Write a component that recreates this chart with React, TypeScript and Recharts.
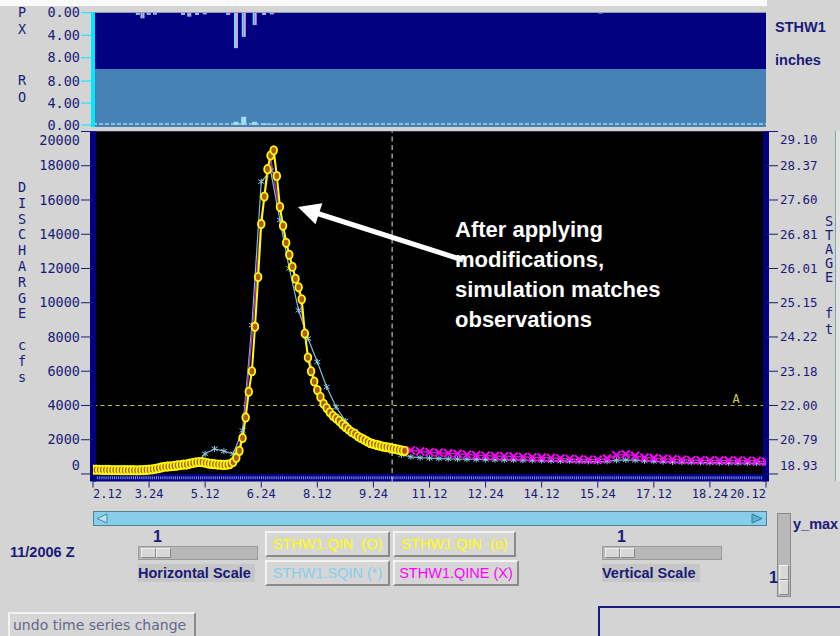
import React from "react";
import {
  ComposedChart,
  Line,
  Bar,
  XAxis,
  YAxis,
  CartesianGrid,
  ReferenceLine,
  ReferenceArea,
} from "recharts";

const NAVY = "#1a1a78";
const MONO = "'DejaVu Sans Mono', monospace";
const SANS = "'Liberation Sans', Arial, sans-serif";

// hours after day 2, 12Z
const xTicks = [0, 36, 72, 108, 144, 180, 216, 252, 288, 324, 360, 396, 432];
const xTickLabels = ["2.12", "3.24", "5.12", "6.24", "8.12", "9.24", "11.12", "12.24", "14.12", "15.24", "17.12", "18.24", "20.12"];

const flowTicks = [0, 2000, 4000, 6000, 8000, 10000, 12000, 14000, 16000, 18000, 20000];
const stageLabels = ["18.93", "20.79", "22.00", "23.18", "24.22", "25.15", "26.01", "26.81", "27.60", "28.37", "29.10"];

const floodFlow = 4000;
const forecastHour = 192;

// STHW1.QIN observed, every 2 h
const obsFlow = [
  250, 250, 245, 240, 240, 235, 230, 230, 230, 225,
  220, 220, 220, 220, 215, 220, 230, 240, 250, 270,
  300, 340, 380, 420, 440, 450, 470, 500, 520, 540,
  560, 600, 640, 680, 700, 690, 660, 620, 590, 570,
  550, 540, 530, 540, 580, 700, 950, 1350, 2100, 3300,
  4800, 6000, 8600, 11500, 14600, 16200, 17800, 18600, 18900, 17400,
  15600, 14500, 13500, 12800, 12100, 11400, 10900, 10200, 8200, 6800,
  6000, 5400, 4900, 4500, 4100, 3850, 3600, 3400, 3250, 3100,
  2900, 2750, 2600, 2450, 2350, 2200, 2100, 2000, 1900, 1800,
  1750, 1700, 1650, 1600, 1570, 1540, 1500, 1460, 1420, 1380,
  1350,
];

// STHW1.SQIN simulated, every 6 h
const sqinFlow = [
  200, 200, 190, 190, 180, 180, 200, 250, 300, 350, 420, 600,
  1180, 1470, 1330, 1180, 2540, 8690, 17070, 17710, 14830, 12000,
  9560, 7910, 6540, 5080, 3910, 3100, 2500, 2050, 1750, 1500,
  1300, 1120, 1000, 950, 920, 900, 880, 870, 860, 850,
  840, 830, 820, 810, 800, 790, 780, 770, 760, 750,
  740, 730, 720, 740, 800, 820, 800, 760, 740, 720,
  700, 690, 680, 670, 660, 650, 645, 640, 635, 630, 625,
];

// STHW1.QINE, every 6 h
const qineFlow = [
  220, 220, 220, 215, 215, 220, 250, 330, 430, 500, 560, 670,
  660, 570, 530, 680, 2200, 8000, 15000, 18400, 15300, 12900,
  10700, 7000, 5000, 3900, 3300, 2800, 2400, 2000, 1800, 1650,
  1550, 1450, 1380, 1320, 1270, 1240, 1210, 1180, 1130, 1090,
  1070, 1050, 1040, 1020, 1000, 980, 960, 940, 910, 880,
  860, 840, 830, 900, 1100, 1150, 1060, 960, 930, 890,
  860, 830, 810, 800, 790, 790, 790, 790, 780, 760, 720,
];
const qineMarkFrom = 204;

// PX precipitation and RO runoff, inches
const pxHours = [29, 32, 36, 40, 58, 62, 67, 72, 87, 92, 97, 104, 110, 115, 326];
const pxInches = [0.4, 1.0, 0.4, 0.35, 0.4, 0.7, 0.4, 0.3, 0.4, 6.3, 4.3, 2.2, 0.4, 0.3, 0.15];
const roHours = [92, 97, 104, 110, 116];
const roInches = [0.6, 1.5, 0.6, 0.3, 0.15];

const obsData = obsFlow.map((q, i) => ({ h: i * 2, q }));
const sqinData = sqinFlow.map((q, i) => ({ h: i * 6, q }));
const qineData = qineFlow.map((q, i) => ({ h: i * 6, q }));
const pxData = pxHours.map((h, i) => ({ h, p: pxInches[i] }));
const roData = roHours.map((h, i) => ({ h, r: roInches[i] }));

const ObsDot = (p: any) => {
  if (p.cx == null || p.cy == null) return <g key={`o${p.index}`} />;
  return (
    <ellipse key={`o${p.index}`} cx={p.cx} cy={p.cy} rx={3.3} ry={4.2} fill="#b0581e" stroke="#ffff00" strokeWidth={1.8} />
  );
};

const SimDot = (p: any) => {
  if (p.cx == null || p.cy == null) return <g key={`s${p.index}`} />;
  const { cx, cy } = p;
  return (
    <g key={`s${p.index}`} stroke="#8fcbe6" strokeWidth={1}>
      <line x1={cx} y1={cy - 3} x2={cx} y2={cy + 3} />
      <line x1={cx - 3} y1={cy - 2} x2={cx + 3} y2={cy + 2} />
      <line x1={cx - 3} y1={cy + 2} x2={cx + 3} y2={cy - 2} />
    </g>
  );
};

const QineDot = (p: any) => {
  if (p.cx == null || p.cy == null || p.payload.h < qineMarkFrom) return <g key={`x${p.index}`} />;
  const { cx, cy } = p;
  return (
    <g key={`x${p.index}`} stroke="#ff00ff" strokeWidth={2}>
      <line x1={cx - 4} y1={cy - 4} x2={cx + 4} y2={cy + 4} />
      <line x1={cx - 4} y1={cy + 4} x2={cx + 4} y2={cy - 4} />
    </g>
  );
};

const LeftTick = (p: any) => {
  const v = p.payload.value;
  const dy = v === 20000 ? 8.5 : v === 0 ? -8.5 : 0;
  return (
    <text x={p.x} y={p.y + dy} dy="0.35em" textAnchor="end" fontFamily={MONO} fontSize={13.5} fill={NAVY}>
      {v}
    </text>
  );
};

const RightTick = (p: any) => {
  const v = p.payload.value;
  const dy = v === 20000 ? 8.5 : v === 0 ? -8.5 : 0;
  return (
    <text x={p.x} y={p.y + dy} dy="0.35em" textAnchor="start" fontFamily={MONO} fontSize={12.5} fill={NAVY}>
      {stageLabels[flowTicks.indexOf(v)]}
    </text>
  );
};

const XTick = (p: any) => {
  const i = xTicks.indexOf(p.payload.value);
  const anchor = i === 0 ? "start" : i === xTicks.length - 1 ? "end" : "middle";
  return (
    <text x={p.x} y={p.y} dy="0.71em" textAnchor={anchor} fontFamily={MONO} fontSize={12} fill={NAVY}>
      {xTickLabels[i]}
    </text>
  );
};

const PanelTick = (p: any) => (
  <text x={p.x} y={p.y} dy="0.35em" textAnchor="end" fontFamily={MONO} fontSize={13.5} fill={NAVY}>
    {Number(p.payload.value).toFixed(2)}
  </text>
);

const TwoTone = (p: any) => {
  const h = Math.abs(p.height || 0);
  const y = Math.min(p.y, p.y + (p.height || 0));
  return (
    <g>
      <rect x={p.x} y={y} width={p.width / 2} height={h} fill="#70dcf2" />
      <rect x={p.x + p.width / 2} y={y} width={p.width / 2} height={h} fill="#d9a2e8" />
    </g>
  );
};

const FloodLabel = (p: any) => {
  const vb = p.viewBox || {};
  return (
    <text x={vb.x + vb.width - 30} y={vb.y - 2} textAnchor="middle" fontFamily={MONO} fontSize={12} fill="#d0d040">
      A
    </text>
  );
};

const abs = (left: number, top: number, extra: React.CSSProperties = {}): React.CSSProperties => ({
  position: "absolute",
  left,
  top,
  ...extra,
});

const raised: React.CSSProperties = {
  boxSizing: "border-box",
  background: "#d6d6d6",
  borderTop: "2px solid #f2f2f2",
  borderLeft: "2px solid #f2f2f2",
  borderBottom: "2px solid #8a8a8a",
  borderRight: "2px solid #8a8a8a",
  display: "flex",
  alignItems: "center",
  justifyContent: "center",
  fontFamily: SANS,
  fontSize: 14.5,
  whiteSpace: "nowrap",
};

const bold: React.CSSProperties = { fontFamily: SANS, fontWeight: 700, fontSize: 14.5, color: NAVY, whiteSpace: "nowrap" };

const Slider = ({ left, top, label }: { left: number; top: number; label: string }) => (
  <>
    <div style={abs(left + 15, top - 18, { ...bold, fontSize: 16 })}>1</div>
    <div style={abs(left, top, { width: 120, height: 14, background: "#b8b8b8", boxSizing: "border-box", border: "1px solid #9a9a9a" })}>
      <div style={abs(2, 1, { width: 15, height: 10, background: "#d8d8d8", boxSizing: "border-box", border: "1px solid #f0f0f0", borderBottomColor: "#888", borderRightColor: "#888" })} />
      <div style={abs(17, 1, { width: 15, height: 10, background: "#d8d8d8", boxSizing: "border-box", border: "1px solid #f0f0f0", borderBottomColor: "#888", borderRightColor: "#888" })} />
    </div>
    <div style={abs(left, top + 18, { ...bold, height: 18, lineHeight: "18px", background: "#c6c6c6", paddingRight: 4 })}>{label}</div>
  </>
);

export default function App() {
  return (
    <div style={{ position: "absolute", left: 0, top: 0, width: 840, height: 636, overflow: "hidden", background: "#d4d4d4", fontFamily: SANS }}>
      <div style={abs(0, 0, { width: 767, height: 6, background: "#fafafa" })} />

      {/* PX panel */}
      <div style={abs(0, 0)}>
        <ComposedChart width={840} height={69} data={pxData} margin={{ top: 12.7, right: 74, bottom: 0, left: 8 }}>
          <CartesianGrid horizontal={false} vertical={false} fill="#000080" />
          <XAxis type="number" dataKey="h" domain={[0, 432]} hide allowDataOverflow />
          <YAxis reversed domain={[0, 10]} ticks={[0, 4, 8]} interval={0} width={85} tickSize={12} tickMargin={1}
            tick={PanelTick} axisLine={{ stroke: "#00e8ff", strokeWidth: 4 }} tickLine={{ stroke: "#00e8ff" }} allowDataOverflow />
          <Bar dataKey="p" barSize={4} shape={TwoTone} isAnimationActive={false} />
        </ComposedChart>
      </div>

      {/* RO panel */}
      <div style={abs(0, 69)}>
        <ComposedChart width={840} height={66} data={roData} margin={{ top: 0, right: 74, bottom: 8, left: 8 }}>
          <CartesianGrid horizontal={false} vertical={false} fill="#4682b4" />
          <XAxis type="number" dataKey="h" domain={[0, 432]} hide allowDataOverflow />
          <YAxis domain={[-0.36, 10.2]} ticks={[0, 4, 8]} interval={0} width={85} tickSize={12} tickMargin={1}
            tick={PanelTick} axisLine={{ stroke: "#00e8ff", strokeWidth: 4 }} tickLine={{ stroke: "#00e8ff" }} allowDataOverflow />
          <ReferenceLine y={0.18} stroke="#9ed2f4" strokeDasharray="4 2" strokeWidth={1.5} />
          <Bar dataKey="r" barSize={5} fill="#a6dcf6" isAnimationActive={false} />
        </ComposedChart>
      </div>

      <div style={abs(18, 4, { fontFamily: MONO, fontSize: 13.5, color: NAVY, lineHeight: "17px", whiteSpace: "pre" })}>{"P\nX"}</div>
      <div style={abs(18, 72, { fontFamily: MONO, fontSize: 13.5, color: NAVY, lineHeight: "17px", whiteSpace: "pre" })}>{"R\nO"}</div>
      <div style={abs(775, 19, bold)}>STHW1</div>
      <div style={abs(775, 52, bold)}>inches</div>

      {/* discharge / stage chart */}
      <div style={abs(0, 120)}>
        <ComposedChart width={840} height={392} margin={{ top: 11.5, right: 1, bottom: 0.5, left: 8 }}>
          <CartesianGrid horizontal={false} vertical={false} fill="#000080" />
          <XAxis type="number" dataKey="h" domain={[0, 432]} ticks={xTicks} interval={0} height={30} tickSize={6} tickMargin={2}
            tick={XTick} tickLine={{ stroke: NAVY }} axisLine={false} allowDataOverflow />
          <YAxis yAxisId="q" domain={[-440, 20000]} ticks={flowTicks} interval={0} width={85} tickSize={12} tickMargin={1}
            tick={LeftTick} axisLine={{ stroke: "#000080", strokeWidth: 6 }} tickLine={{ stroke: NAVY }} allowDataOverflow />
          <YAxis yAxisId="s" orientation="right" domain={[-440, 20000]} ticks={flowTicks} interval={0} width={73} tickSize={12} tickMargin={2}
            tick={RightTick} axisLine={{ stroke: "#000080", strokeWidth: 6 }} tickLine={{ stroke: NAVY }} allowDataOverflow />
          <ReferenceArea yAxisId="q" x1={0} x2={432} y1={0} y2={20000} fill="#000000" fillOpacity={1} stroke="none" />
          <ReferenceLine yAxisId="q" y={-220} stroke="#8494ee" strokeWidth={3} strokeDasharray="1 1.1" />
          <ReferenceLine yAxisId="q" y={floodFlow} stroke="#c8c83c" strokeDasharray="4 3.5" label={FloodLabel} />
          <ReferenceLine yAxisId="q" x={forecastHour} stroke="#e6e6e6" strokeDasharray="5 3.5" />
          <Line yAxisId="q" data={sqinData} dataKey="q" type="linear" stroke="#7fbfdf" strokeWidth={1.2}
            dot={SimDot} activeDot={false} isAnimationActive={false} />
          <Line yAxisId="q" data={qineData} dataKey="q" type="linear" stroke="#b030b0" strokeWidth={1.5}
            dot={QineDot} activeDot={false} isAnimationActive={false} />
          <Line yAxisId="q" data={obsData} dataKey="q" type="linear" stroke="#ffff00" strokeWidth={2}
            dot={ObsDot} activeDot={false} isAnimationActive={false} />
        </ComposedChart>
      </div>

      <div style={abs(18, 180, { fontFamily: MONO, fontSize: 13.5, color: NAVY, lineHeight: "15.8px", whiteSpace: "pre" })}>
        {"D\nI\nS\nC\nH\nA\nR\nG\nE\n \nc\nf\ns"}
      </div>
      <div style={abs(825, 214, { fontFamily: MONO, fontSize: 13.5, color: NAVY, lineHeight: "14px", whiteSpace: "pre" })}>
        {"S\nT\nA\nG\nE"}
      </div>
      <div style={abs(825, 305, { fontFamily: MONO, fontSize: 13.5, color: NAVY, lineHeight: "16px", whiteSpace: "pre" })}>
        {"f\nt"}
      </div>
      <div style={abs(835, 131, { width: 5, height: 350, background: "#e2e2e2", borderLeft: "1px solid #7aa" })} />

      {/* annotation */}
      <svg style={abs(0, 0, { pointerEvents: "none" })} width={840} height={636}>
        <line x1={463} y1={260} x2={316} y2={213} stroke="#ffffff" strokeWidth={5} />
        <polygon points="298,207 322.3,203.2 315.5,224.2" fill="#ffffff" />
      </svg>
      <div style={abs(455, 215, { color: "#ffffff", fontFamily: SANS, fontWeight: 700, fontSize: 22, lineHeight: "30px", whiteSpace: "nowrap" })}>
        After applying<br />modifications,<br />simulation matches<br />observations
      </div>

      {/* controls */}
      <div style={abs(93, 511, { width: 674, height: 15, background: "#87ceeb", boxSizing: "border-box", border: "1px solid #4f8296" })}>
        <svg style={abs(2, 1)} width={12} height={11}>
          <polygon points="1,5.5 11,1 11,10" fill="#b6e4f6" stroke="#4f8296" />
        </svg>
        <svg style={abs(657, 1)} width={12} height={11}>
          <polygon points="11,5.5 1,1 1,10" fill="#5cb2d8" stroke="#3c7892" />
        </svg>
      </div>
      <div style={abs(10, 544, bold)}>11/2006 Z</div>
      <Slider left={138} top={546} label="Horizontal Scale" />
      <Slider left={602} top={546} label="Vertical Scale" />

      <div style={abs(265, 531, { ...raised, width: 125, height: 26, color: "#ffff00" })}>STHW1.QIN&nbsp; (O)</div>
      <div style={abs(393, 531, { ...raised, width: 123, height: 26, color: "#ffff00" })}>STHW1.QIN&nbsp; (o)</div>
      <div style={abs(265, 560, { ...raised, width: 125, height: 26, color: "#87ceeb" })}>STHW1.SQIN (*)</div>
      <div style={abs(393, 560, { ...raised, width: 126, height: 26, color: "#ff00ff" })}>STHW1.QINE (X)</div>

      <div style={abs(777, 513, { width: 14, height: 84, background: "#b8b8b8", boxSizing: "border-box", border: "1px solid #8a8a8a" })}>
        <div style={abs(1, 51, { width: 10, height: 15, background: "#d8d8d8", boxSizing: "border-box", border: "1px solid #f0f0f0", borderBottomColor: "#888", borderRightColor: "#888" })} />
        <div style={abs(1, 66, { width: 10, height: 15, background: "#d8d8d8", boxSizing: "border-box", border: "1px solid #f0f0f0", borderBottomColor: "#888", borderRightColor: "#888" })} />
      </div>
      <div style={abs(793, 516, bold)}>y_max</div>
      <div style={abs(769, 569, { ...bold, fontSize: 16 })}>1</div>

      <div style={abs(8, 612, { ...raised, width: 188, height: 26, justifyContent: "flex-start", paddingLeft: 3, color: "#66668a", fontFamily: "'DejaVu Sans', sans-serif", fontSize: 14 })}>
        undo time series change
      </div>
      <div style={abs(598, 606, { width: 250, height: 40, boxSizing: "border-box", border: "2px solid #1a1a80" })} />
    </div>
  );
}
